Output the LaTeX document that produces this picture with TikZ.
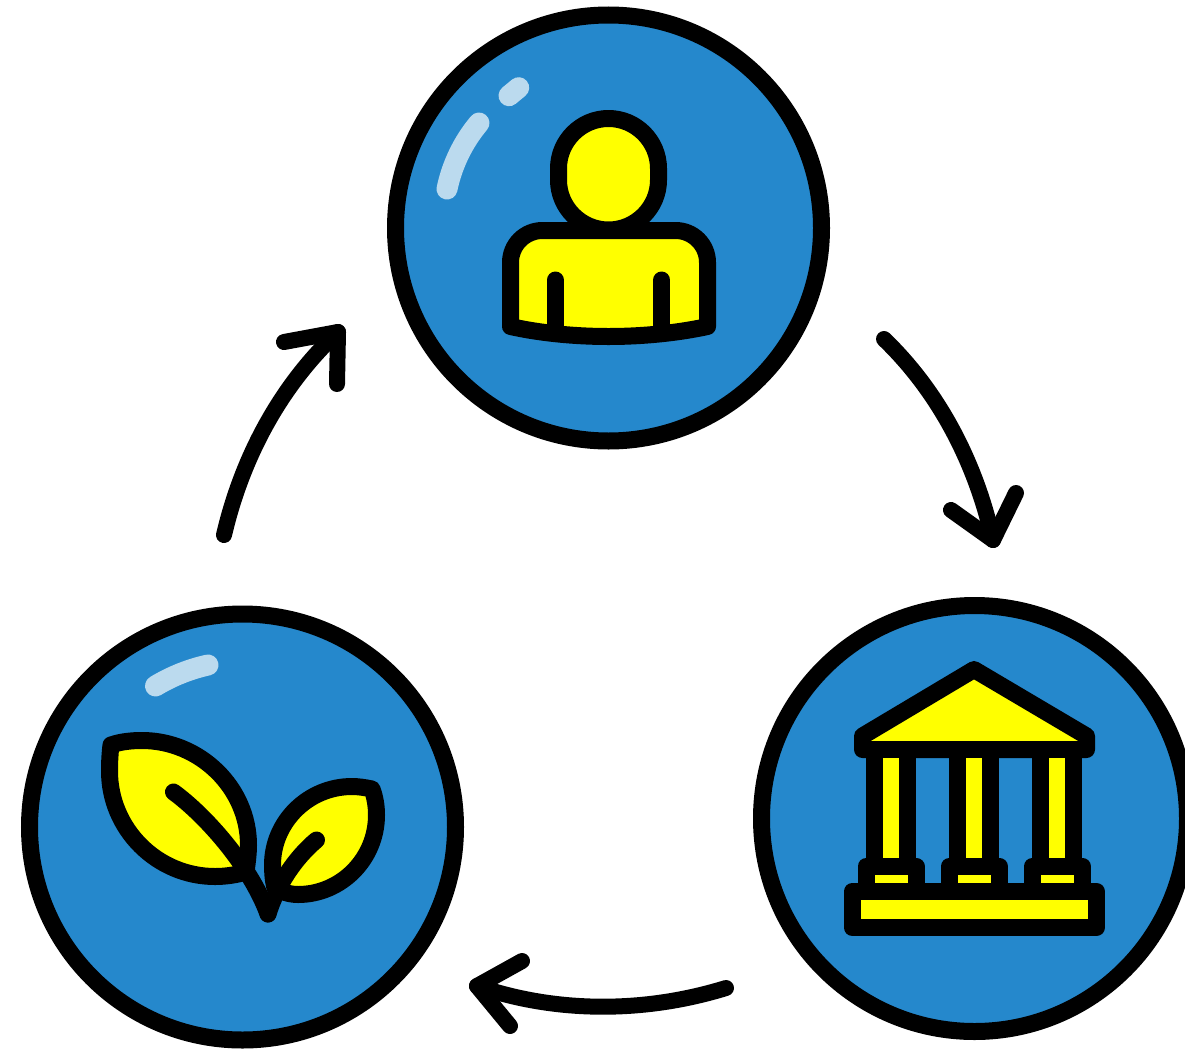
\documentclass[tikz,border=0pt]{standalone}
\definecolor{discblue}{HTML}{2588CC}
\definecolor{iconyellow}{HTML}{FFFF00}
\definecolor{glint}{HTML}{BBDAEE}
\tikzset{
  disc/.style={circle,draw=black,fill=discblue,line width=17pt,minimum size=426pt,inner sep=0pt,outer sep=0pt},
  icon/.style={draw=black,fill=iconyellow,line width=17pt,line join=round,line cap=round},
  vein/.style={draw=black,line width=17pt,line cap=round,line join=round},
  flow/.style={draw=black,line width=16pt,line cap=round,line join=round},
  shine/.style={draw=glint,line width=21pt,line cap=round}
}
\begin{document}
\begin{tikzpicture}[x=1pt,y=-1pt]
\useasboundingbox (0,0) rectangle (1185,1049);
\clip (0,0) rectangle (1185,1049);
% discs
\node[disc] (person) at (608.5,228) {};
\node[disc] (bank) at (974.5,818.5) {};
\node[disc] (plant) at (242.5,827) {};
% arrow end points
\coordinate (a1s) at (884,339); \coordinate (a1e) at (993,540);
\coordinate (a1l) at (951,510); \coordinate (a1r) at (1016,493);
\coordinate (a2s) at (726,988); \coordinate (a2e) at (477,986);
\coordinate (a2l) at (522,961); \coordinate (a2r) at (510,1026);
\coordinate (a3s) at (224,535); \coordinate (a3e) at (338,332);
\coordinate (a3l) at (284,342); \coordinate (a3r) at (337,384);
\draw[flow] (a1s) .. controls (940,393) and (976,464) .. (a1e);
\draw[flow] (a1l) -- (a1e) -- (a1r);
\draw[flow] (a2s) .. controls (645,1013) and (557,1013.5) .. (a2e);
\draw[flow] (a2l) -- (a2e) -- (a2r);
\draw[flow] (a3s) .. controls (242,458) and (280,386) .. (a3e);
\draw[flow] (a3l) -- (a3e) -- (a3r);
% highlights
\draw[shine] (447,189) .. controls (452,165) and (463,142) .. (479,123);
\draw[shine] (509,95.7) -- (518.7,87.7);
\draw[shine] (155.5,686) .. controls (172,676) and (190,669) .. (208,665);
% person
\path[icon] (558.5,168.5) .. controls (558.5,141) and (581,118.5) .. (608.5,118.5)
  .. controls (636,118.5) and (658.5,141) .. (658.5,168.5) -- (658.5,180)
  .. controls (658.5,207.5) and (636,230) .. (608.5,230)
  .. controls (581,230) and (558.5,207.5) .. (558.5,180) -- cycle;
\path[icon] (510.5,326.5) -- (510.5,262.5) .. controls (510.5,244.8) and (524.8,230.5) .. (542.5,230.5)
  -- (675.5,230.5) .. controls (693.2,230.5) and (707.5,244.8) .. (707.5,262.5) -- (707.5,326.5)
  .. controls (675,333.5) and (640,336.5) .. (608.5,336.5)
  .. controls (577,336.5) and (542,333.5) .. (510.5,326.5) -- cycle;
\draw[vein] (555.3,280) -- (555.3,330);
\draw[vein] (661.7,280) -- (661.7,330);
% bank
\path[icon] (974,669.5) -- (1086.5,736) -- (1086.5,749.5) -- (862.5,749.5) -- (862.5,736) -- cycle;
\foreach \c in {891,974.3,1057.3}{
  \path[icon] (\c-16.5,749.5) rectangle (\c+16.5,866);
  \path[icon] (\c-25,866.2) rectangle (\c+25,891.5);
}
\path[icon] (852.2,891.5) rectangle (1096.5,927.5);
% plant
\path[icon] (111,745) .. controls (121,741.5) and (132,740.5) .. (142,740.5)
  .. controls (200,740.5) and (248.5,788) .. (248.5,845)
  .. controls (248.5,853) and (247.5,861) .. (246,872)
  .. controls (236,875) and (225,876.5) .. (215,876.5)
  .. controls (157,876.5) and (109.5,829) .. (109.5,771)
  .. controls (109.5,762) and (110,753) .. (111,745) -- cycle;
\path[icon] (372,789) .. controls (365,787.5) and (358,786.5) .. (352,786.5)
  .. controls (308,786.5) and (272.5,822) .. (272.5,865)
  .. controls (272.5,872) and (273,880) .. (275,888)
  .. controls (282,892) and (290,894.5) .. (298,894.5)
  .. controls (341,894.5) and (376.5,859) .. (376.5,815)
  .. controls (376.5,806) and (375,797) .. (372,789) -- cycle;
\draw[vein] (173.5,792) .. controls (205,815) and (250,865) .. (268,914);
\draw[vein] (316.5,840) .. controls (295,858) and (277,885) .. (268,914);
\end{tikzpicture}
\end{document}
